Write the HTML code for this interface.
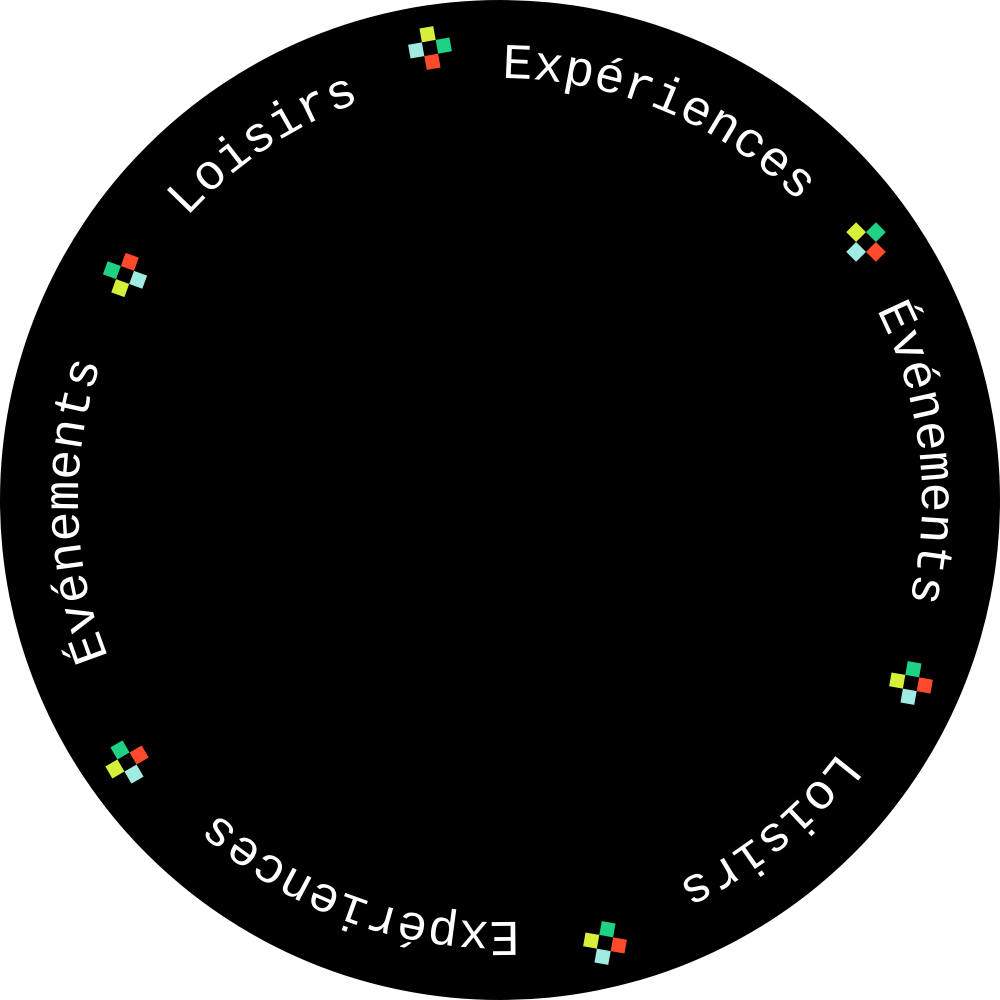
<!DOCTYPE html>
<html><head><meta charset="utf-8"><style>
html,body{margin:0;padding:0;background:#fff;width:1000px;height:1000px;overflow:hidden}
svg{display:block}
text{font-family:"Liberation Mono",monospace;font-size:50px;fill:#fff}
</style></head><body>
<svg width="1000" height="1000" viewBox="0 0 1000 1000">
<defs>
<path id="c" d="M 78 500 A 422 422 0 1 1 922 500 A 422 422 0 1 1 78 500 A 422 422 0 1 1 922 500 A 422 422 0 1 1 78 500"/>
<g id="ic">
<rect x="-7" y="-21" width="14" height="14" fill="#d6ef3a"/>
<rect x="7" y="-7" width="14" height="14" fill="#1fd185"/>
<rect x="-7" y="7" width="14" height="14" fill="#ff4b2b"/>
<rect x="-21" y="-7" width="14" height="14" fill="#a0ebe2"/>
</g>
</defs>
<circle cx="500" cy="500" r="500" fill="#000"/>
<text text-anchor="middle"><textPath href="#c" startOffset="415">Loisirs</textPath></text>
<text text-anchor="middle"><textPath href="#c" startOffset="830">Expériences</textPath></text>
<text text-anchor="middle"><textPath href="#c" startOffset="1278">Événements</textPath></text>
<text text-anchor="middle"><textPath href="#c" startOffset="1700">Loisirs</textPath></text>
<text text-anchor="middle"><textPath href="#c" startOffset="2134">Expériences</textPath></text>
<text text-anchor="middle"><textPath href="#c" startOffset="2640">Événements</textPath></text>
<use href="#ic" transform="translate(430,48) rotate(-10)"/>
<use href="#ic" transform="translate(866,242) rotate(-45)"/>
<use href="#ic" transform="translate(911,683) rotate(-80)"/>
<use href="#ic" transform="translate(605,943) rotate(-80)"/>
<use href="#ic" transform="translate(127,762) rotate(-120)"/>
<use href="#ic" transform="translate(125,275) rotate(-160)"/>
</svg>
</body></html>
